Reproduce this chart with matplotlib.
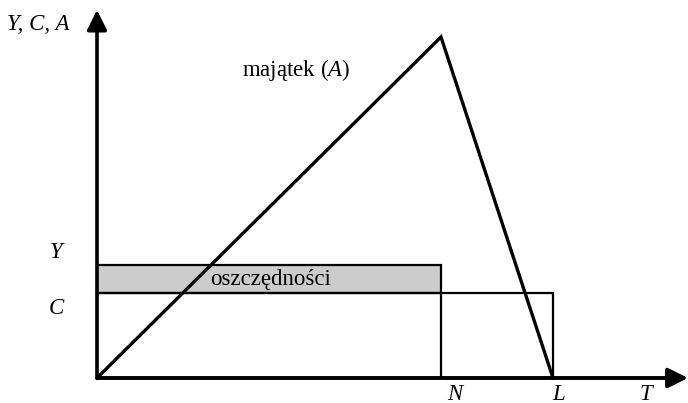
import matplotlib.pyplot as plt
from matplotlib.patches import Rectangle

plt.rcParams['font.family'] = ['Liberation Serif', 'DejaVu Serif']
plt.rcParams['mathtext.fontset'] = 'custom'
plt.rcParams['mathtext.rm'] = 'Liberation Serif'
plt.rcParams['mathtext.it'] = 'Liberation Serif:italic'

# okresy: 0 - początek, N - emerytura, L - koniec życia
t_points = [0, 344, 456]
majatek = [0, 341, 0]
Y = 113   # dochód
C = 85    # konsumpcja
t_labels = ['N', 'L', 'T']
t_label_pos = [358, 462, 549]

fig = plt.figure(figsize=(6.88, 4.03), dpi=100)
ax = fig.add_axes([0, 0, 1, 1])
ax.set_xlim(-97, 591)
ax.set_ylim(-25, 378)
ax.axis('off')

# osie ze strzałkami
ax.annotate('', xy=(0, 368), xytext=(0, 0),
            arrowprops=dict(arrowstyle='-|>', lw=2.6, color='k', mutation_scale=30, shrinkA=0, shrinkB=0))
ax.annotate('', xy=(591, 0), xytext=(0, 0),
            arrowprops=dict(arrowstyle='-|>', lw=2.8, color='k', mutation_scale=30, shrinkA=0, shrinkB=0))

# oszczędności (szary prostokąt między Y i C)
ax.add_patch(Rectangle((0, C), t_points[1], Y - C, facecolor='#cccccc', edgecolor='k', lw=1.6, zorder=1))
# prostokąt konsumpcji
ax.add_patch(Rectangle((0, 0), t_points[2], C, facecolor='none', edgecolor='k', lw=1.6, zorder=2))
ax.plot([t_points[1], t_points[1]], [0, C], color='k', lw=1.6, zorder=2)

# majątek
ax.plot(t_points, majatek, color='k', lw=2.4, zorder=3, solid_joinstyle='miter')

fs = 16.5
ax.text(113, 98, 'oszczędności', fontsize=fs, ha='left', va='center', zorder=4)
ax.text(145, 308, 'majątek ($A$)', fontsize=fs, ha='left', va='center')
ax.text(-90, 353, 'Y, C, A', fontsize=fs, style='italic', ha='left', va='center')
ax.text(-41, 126, 'Y', fontsize=fs, style='italic', ha='center', va='center')
ax.text(-41, 70, 'C', fontsize=fs, style='italic', ha='center', va='center')
for lab, x in zip(t_labels, t_label_pos):
    ax.text(x, -16, lab, fontsize=fs, style='italic', ha='center', va='center')

fig.savefig('out.png', dpi=100)
